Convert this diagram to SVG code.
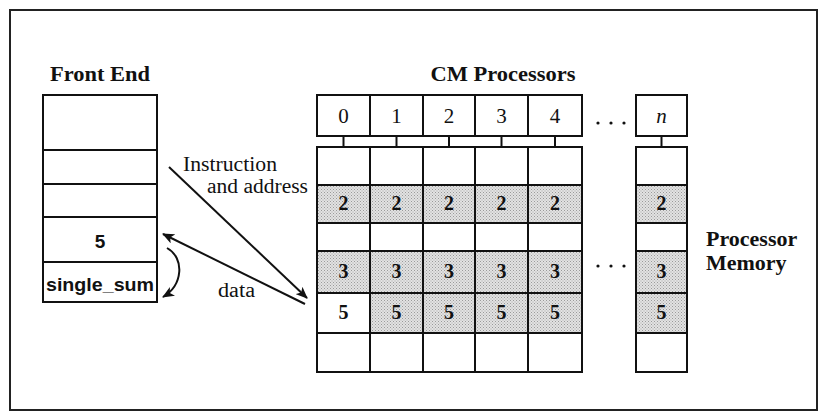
<svg xmlns="http://www.w3.org/2000/svg" width="826" height="416" viewBox="0 0 826 416">
  <defs>
    <style>
      .box { fill: #fff; stroke: #111; stroke-width: 2; }
      .shade { fill: url(#stipple); stroke: #111; stroke-width: 2; }
      .rule { stroke: #111; stroke-width: 2; fill: none; }
      .wire { stroke: #111; stroke-width: 2; fill: none; }
      .title { font-family: "Liberation Serif", "Times New Roman", serif; font-weight: bold; font-size: 22px; fill: #111; }
      .label { font-family: "Liberation Serif", "Times New Roman", serif; font-size: 20px; fill: #111; }
      .num { font-family: "Liberation Serif", "Times New Roman", serif; font-size: 21px; fill: #111; text-anchor: middle; }
      .val { font-family: "Liberation Serif", "Times New Roman", serif; font-weight: bold; font-size: 20px; fill: #111; text-anchor: middle; }
      .fe { font-family: "Liberation Sans", Arial, sans-serif; font-weight: bold; font-size: 19px; fill: #111; text-anchor: middle; }
      .dots { fill: #111; }
    </style>
    <pattern id="stipple" width="3" height="3" patternUnits="userSpaceOnUse">
      <rect width="3" height="3" fill="#e2e2e2"/>
      <rect x="0" y="0" width="1" height="1" fill="#9a9a9a"/>
      <rect x="1.5" y="1.5" width="1" height="1" fill="#a8a8a8"/>
    </pattern>
    <marker id="head" viewBox="0 0 12 10" refX="11" refY="5" markerWidth="12" markerHeight="10" markerUnits="userSpaceOnUse" orient="auto-start-reverse">
      <path d="M0,0 L12,5 L0,10 L3,5 z" fill="#111"/>
    </marker>
  </defs>

  <!-- outer frame -->
  <rect x="10" y="10" width="807" height="400" fill="#fff" stroke="#222" stroke-width="2"/>

  <!-- front end memory column -->
  <g id="front-end">
    <text class="title" x="100" y="81" text-anchor="middle" textLength="100" lengthAdjust="spacingAndGlyphs">Front End</text>
    <rect class="box" x="43" y="95" width="114" height="207"/>
    <line class="rule" x1="43" y1="150" x2="157" y2="150"/>
    <line class="rule" x1="43" y1="184" x2="157" y2="184"/>
    <line class="rule" x1="43" y1="217" x2="157" y2="217"/>
    <line class="rule" x1="43" y1="262" x2="157" y2="262"/>
    <text class="fe" x="100" y="248">5</text>
    <text class="fe" x="100" y="291" textLength="108" lengthAdjust="spacingAndGlyphs">single_sum</text>
  </g>

  <!-- processor headers -->
  <g id="cm-processors">
    <text class="title" x="503" y="81" text-anchor="middle" textLength="145" lengthAdjust="spacingAndGlyphs">CM Processors</text>
    <rect class="box" x="317" y="95" width="53" height="41"/>
    <rect class="box" x="370" y="95" width="53" height="41"/>
    <rect class="box" x="423" y="95" width="52" height="41"/>
    <rect class="box" x="475" y="95" width="53" height="41"/>
    <rect class="box" x="528" y="95" width="54" height="41"/>
    <rect class="box" x="636" y="95" width="51" height="41"/>
    <text class="num" x="343.5" y="123">0</text>
    <text class="num" x="396.5" y="123">1</text>
    <text class="num" x="449" y="123">2</text>
    <text class="num" x="501.5" y="123">3</text>
    <text class="num" x="555" y="123">4</text>
    <text class="num" x="661.5" y="123" font-style="italic">n</text>
    <circle class="dots" cx="598" cy="123" r="1.6"/>
    <circle class="dots" cx="611" cy="123" r="1.6"/>
    <circle class="dots" cx="624" cy="123" r="1.6"/>
  </g>

  <!-- processor memory grid -->
  <g id="processor-memory">
    <!-- white rows -->
    <rect class="box" x="317" y="147" width="265" height="38"/>
    <rect class="box" x="317" y="223" width="265" height="28"/>
    <rect class="box" x="317" y="333" width="265" height="39"/>
    <rect class="box" x="636" y="147" width="51" height="38"/>
    <rect class="box" x="636" y="223" width="51" height="28"/>
    <rect class="box" x="636" y="333" width="51" height="39"/>
    <!-- shaded rows -->
    <rect class="shade" x="317" y="185" width="265" height="38"/>
    <rect class="shade" x="317" y="251" width="265" height="42"/>
    <rect class="box" x="317" y="293" width="53" height="40"/>
    <rect class="shade" x="370" y="293" width="212" height="40"/>
    <rect class="shade" x="636" y="185" width="51" height="38"/>
    <rect class="shade" x="636" y="251" width="51" height="42"/>
    <rect class="shade" x="636" y="293" width="51" height="40"/>
    <!-- column dividers -->
    <line class="rule" x1="370" y1="147" x2="370" y2="372"/>
    <line class="rule" x1="423" y1="147" x2="423" y2="372"/>
    <line class="rule" x1="475" y1="147" x2="475" y2="372"/>
    <line class="rule" x1="528" y1="147" x2="528" y2="372"/>
    <!-- values -->
    <g>
      <text class="val" x="343.5" y="210">2</text>
      <text class="val" x="396.5" y="210">2</text>
      <text class="val" x="449" y="210">2</text>
      <text class="val" x="501.5" y="210">2</text>
      <text class="val" x="555" y="210">2</text>
      <text class="val" x="661.5" y="210">2</text>
      <text class="val" x="343.5" y="278">3</text>
      <text class="val" x="396.5" y="278">3</text>
      <text class="val" x="449" y="278">3</text>
      <text class="val" x="501.5" y="278">3</text>
      <text class="val" x="555" y="278">3</text>
      <text class="val" x="661.5" y="278">3</text>
      <text class="val" x="343.5" y="319">5</text>
      <text class="val" x="396.5" y="319">5</text>
      <text class="val" x="449" y="319">5</text>
      <text class="val" x="501.5" y="319">5</text>
      <text class="val" x="555" y="319">5</text>
      <text class="val" x="661.5" y="319">5</text>
    </g>
    <circle class="dots" cx="598" cy="266" r="1.6"/>
    <circle class="dots" cx="611" cy="266" r="1.6"/>
    <circle class="dots" cx="624" cy="266" r="1.6"/>
    <text class="title" x="706" y="246">Processor</text>
    <text class="title" x="706" y="270">Memory</text>
  </g>

  <!-- connectors -->
  <g id="connectors">
    <line class="wire" x1="343.5" y1="136" x2="343.5" y2="147" stroke-width="1.5"/>
    <line class="wire" x1="396.5" y1="136" x2="396.5" y2="147" stroke-width="1.5"/>
    <line class="wire" x1="449" y1="136" x2="449" y2="147" stroke-width="1.5"/>
    <line class="wire" x1="501.5" y1="136" x2="501.5" y2="147" stroke-width="1.5"/>
    <line class="wire" x1="555" y1="136" x2="555" y2="147" stroke-width="1.5"/>
    <line class="wire" x1="661.5" y1="136" x2="661.5" y2="147" stroke-width="1.5"/>
    <line class="wire" x1="169" y1="167" x2="307" y2="298" marker-end="url(#head)"/>
    <line class="wire" x1="305" y1="304" x2="163" y2="234" marker-end="url(#head)"/>
    <path class="wire" d="M167,248 C185,258 183,285 163,297" marker-end="url(#head)"/>
    <text class="label" x="183" y="171" textLength="94" lengthAdjust="spacingAndGlyphs">Instruction</text>
    <text class="label" x="207" y="193" textLength="101" lengthAdjust="spacingAndGlyphs">and address</text>
    <text class="label" x="218" y="297" textLength="37" lengthAdjust="spacingAndGlyphs">data</text>
  </g>
</svg>
